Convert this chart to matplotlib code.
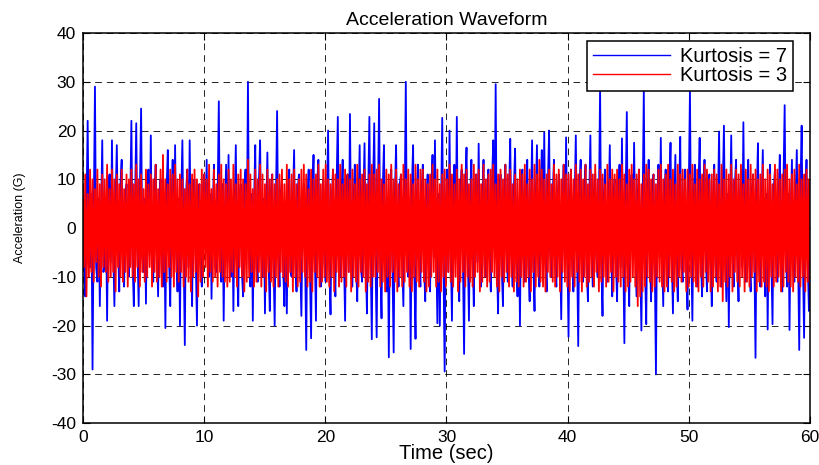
import numpy as np
import matplotlib
matplotlib.use("Agg")
import matplotlib.pyplot as plt

plt.rcParams['font.family'] = ['Liberation Sans', 'DejaVu Sans']
plt.rcParams['axes.unicode_minus'] = False

# valores, amostras a cada ~0.1 s (uma linha = 4 s)
kurt7 = [
    5, -6, -14, 4, 22, -5, -8, 7, -29, 3, 29, -8, -11, 6, -16, 2, 18, -9, -7, 5, -19, 8, 11, -7, 18, -4, -16, 6, 17, -3, -13, 9, 14, -8, -12, 5, 9, -6, -10, 4,
    22, -7, -16, 5, 21.5, -4, -16, 8, 24.5, -6, -9, 6, -15.5, 9, 12, -5, 19, -8, -11, 7, 13, -3, -14, 6, 10, -9, -12, 4, -20.5, 8, 16, -6, -16, 5, 14, -7, 17, -5, -13, 6,
    -20, 6, 18, -5, -24, 7, 12, -8, 18, -4, -16, 9, 10, -6, -20, 5, 9, -7, -12, 8, 11, -3, 14, -6, -10, 7, -14.5, 4, 13, -8, -9, 6, 26, -5, -11, 9, -19, 3, 13, -7,
    15, -8, -10, 6, -17, 4, 17, -7, -16, 5, 9, -9, -14, 8, 12, -4, 30, -6, -12, 7, -19, 5, 17, -8, -11, 9, 18, -5, -10, 6, -17.5, 3, 15.5, -7, -17, 8, 11, -6, -20, 5,
    24, -5, -12, 7, 10, -8, -16, 4, -17.5, 6, 12, -9, -10, 5, 16, -6, -13, 8, 11, -7, -18, 3, 9, -5, -25, 6, 12, -8, -22.6, 7, 15, -4, -19, 9, 14, -6, -12, 5, 10, -7,
    -11, 6, 20, -8, -17.7, 5, 12, -6, -14, 9, 22.8, -4, -10, 7, 14, -5, -19, 8, 11, -9, 23.4, -3, -12, 6, 13, -7, -15, 4, 17, -8, -11, 5, 17.4, -6, -17.5, 7, 22.8, -5, -22.8, 8,
    21.5, -6, -22.4, 5, 26.5, -7, -18.5, 8, 17, -4, -13, 6, -26.5, 3, 12, -8, -25.5, 7, 17, -5, -12, 9, 11, -6, -16, 4, 30, -7, -10, 5, -24.8, 8, 17, -9, -22.7, 6, 13, -5, -12, 7,
    13, -7, -15, 6, 11, -5, -13, 8, 15, -6, 18, -3, -19.5, 7, -20, 4, 22.6, -8, -29.4, 5, 12, -9, 20, -4, -19, 6, 13, -5, 22.8, -7, -15, 8, 12, -6, -25.8, 9, 16.5, -4, -19, 6,
    14, -5, -16, 8, 11, -7, 17.3, -4, -12, 6, 14, -8, -10, 5, 12, -6, -13, 9, 18, -3, 29.5, -7, -17.5, 5, 11, -8, -16, 6, 13, -4, -11, 7, 18.3, -5, -12, 8, 16.3, -6, -14, 5,
    -20, 7, 12, -6, -11, 5, 14, -8, -15, 4, 18, -7, -17, 6, 17, -5, -12, 8, 16, -4, 19.6, -6, -13, 9, 20, -5, -10, 7, 14, -8, -12, 6, 11, -4, -18.7, 5, 13, -7, 18.6, -3,
    -22.3, 6, 12, -7, -13, 5, 19, -4, -24.2, 8, 14, -6, -11, 7, 13, -9, -15, 5, 19, -5, -12, 8, 11, -6, -10, 4, 29, -7, -18, 6, 12, -8, -11, 5, 17, -4, -14, 7, 10, -6,
    -15, 5, 13, -8, 18.4, -4, -23.6, 6, 23.8, -7, -16, 9, 11, -5, 17.5, -3, -14, 7, 12, -6, -21, 4, 28.3, -8, -19.7, 6, 14, -5, -15, 8, 11, -7, -30, 5, 13, -6, 18.5, -4, -16, 7,
    12, -6, -13, 8, 17.5, -5, -17.5, 4, 15, -7, -15, 6, 18.7, -8, -11, 5, 12, -9, -16.7, 7, 28.3, -4, -19, 6, 13, -5, -12, 8, 18.5, -6, -14, 7, 14, -4, -13, 9, 11, -7, -16, 5,
    13, -7, -11, 5, 19.8, -6, -12, 8, 21, -4, -15, 7, -20.3, 3, 19, -5, -12, 9, 14, -6, -15, 5, 12, -8, 21.7, -4, -11, 6, 14, -7, -13, 8, 11, -5, -26.6, 6, 17.4, -8, -12, 4,
    16, -5, -14, 7, -20.8, 4, 13, -6, -19.7, 8, 12, -7, -11, 6, 15, -4, -13, 9, 25.2, -5, -12, 7, -20.9, 3, 14, -8, -11, 6, 16, -5, -25, 8, 21, -6, -22.5, 5, 14, -7, -17, 6,
]

kurt3 = [
    9, -8, 11, -14, 7, -10, 12, -9, 10, -11, 8, -7, 12, -10, 9, -12, 11, -8, 10, -9, 13, -11, 8, -10, 12, -9, 10, -13, 11, -8, 9, -10, 12, -11, 8, -9, 11, -12, 10, -8,
    12, -10, 9, -11, 13, -8, 10, -12, 11, -9, 8, -11, 12, -10, 9, -8, 11, -12, 10, -9, 13, -11, 8, -10, 12, -12, 15, -9, 10, -11, 9, -8, 12, -10, 11, -12, 13, -9, 10, -11,
    11, -9, 10, -12, 8, -10, 12, -11, 9, -13, 11, -10, 12, -9, 10, -14, 9, -11, 12, -10, 11, -8, 10, -12, 13, -9, 8, -11, 12, -10, 9, -12, 11, -9, 13, -10, 10, -11, 9, -12,
    12, -11, 10, -9, 13, -10, 9, -12, 11, -8, 12, -10, 10, -13, 9, -11, 14, -10, 11, -9, 8, -12, 12, -11, 10, -9, 13, -12, 11, -10, 9, -13, 12, -9, 10, -11, 11, -12, 9, -10,
    10, -12, 11, -9, 12, -10, 9, -11, 13, -12, 10, -9, 11, -13, 12, -10, 9, -12, 10, -11, 12, -9, 13, -10, 11, -12, 8, -11, 12, -13, 10, -9, 11, -10, 13, -12, 9, -11, 12, -10,
    13, -11, 10, -12, 9, -10, 12, -13, 11, -9, 10, -12, 13, -11, 9, -10, 12, -12, 11, -9, 10, -13, 12, -10, 9, -11, 13, -12, 10, -9, 11, -10, 12, -13, 9, -11, 11, -12, 13, -10,
    11, -10, 12, -9, 13, -12, 10, -11, 9, -13, 12, -10, 11, -12, 13, -9, 10, -11, 12, -13, 9, -10, 11, -12, 13, -11, 10, -9, 12, -12, 11, -13, 9, -10, 13, -11, 10, -12, 12, -9,
    12, -11, 10, -13, 9, -12, 11, -10, 13, -9, 10, -12, 12, -11, 9, -13, 11, -10, 12, -12, 10, -9, 13, -11, 11, -12, 9, -10, 12, -13, 10, -11, 13, -9, 11, -12, 12, -10, 9, -11,
    10, -12, 13, -10, 11, -9, 12, -13, 9, -11, 13, -10, 10, -12, 11, -11, 12, -9, 13, -10, 9, -12, 11, -13, 12, -10, 10, -11, 13, -9, 11, -12, 12, -10, 9, -13, 11, -11, 10, -12,
    12, -10, 11, -12, 13, -11, 9, -10, 12, -13, 10, -9, 13, -12, 11, -10, 14, -11, 12, -12, 10, -13, 11, -9, 12, -10, 9, -11, 13, -12, 11, -10, 12, -13, 10, -9, 13, -11, 11, -12,
    11, -13, 12, -10, 10, -12, 13, -9, 11, -11, 12, -13, 10, -10, 13, -12, 9, -11, 12, -10, 11, -12, 13, -9, 10, -13, 12, -11, 11, -10, 9, -12, 13, -11, 10, -9, 12, -13, 11, -10,
    12, -11, 10, -12, 13, -10, 11, -13, 9, -12, 12, -11, 13, -10, 10, -12, 11, -16, 12, -14, 9, -13, 11, -12, 13, -10, 12, -11, 10, -13, 11, -12, 9, -10, 12, -11, 13, -12, 10, -13,
    11, -12, 13, -10, 10, -11, 12, -13, 9, -12, 13, -10, 11, -11, 12, -9, 10, -13, 12, -12, 11, -10, 13, -11, 9, -12, 12, -13, 10, -10, 11, -12, 13, -9, 12, -11, 10, -13, 11, -12,
    12, -10, 11, -13, 9, -12, 13, -15, 10, -11, 12, -12, 11, -10, 13, -13, 10, -9, 12, -11, 11, -12, 13, -10, 9, -13, 12, -11, 10, -12, 13, -10, 11, -9, 12, -13, 10, -11, 11, -12,
    13, -11, 10, -12, 12, -13, 11, -10, 9, -12, 13, -11, 12, -10, 10, -13, 11, -12, 12, -9, 13, -11, 10, -12, 11, -13, 12, -10, 9, -11, 13, -12, 10, -10, 11, -13, 12, -11, 10, -12,
]

tempo = np.linspace(0, 60, len(kurt7))

fig = plt.figure(figsize=(8.2, 4.65), dpi=100)
ax = fig.add_axes([0.101, 0.090, 0.887, 0.839])

ax.plot(tempo, kurt7, color=(0, 0, 1), lw=1.3, label="Kurtosis = 7")
ax.plot(tempo, kurt3, color=(1, 0, 0), lw=1.3, label="Kurtosis = 3")

ax.set_xlim(0, 60)
ax.set_ylim(-40, 40)
ax.set_xticks(range(0, 61, 10))
ax.set_yticks(range(-40, 41, 10))
ax.tick_params(direction="in", labelsize=12.5, length=5, width=0.8, pad=5,
               top=True, right=True)
ax.grid(True, color="black", linestyle=(0, (8, 6)), linewidth=0.6)
for s in ax.spines.values():
    s.set_linewidth(1.1)

ax.set_title("Acceleration Waveform", fontsize=14, pad=6)
ax.set_xlabel("Time (sec)", fontsize=14.5, labelpad=-1)
ax.set_ylabel("Acceleration (G)", fontsize=9)
ax.yaxis.set_label_coords(-0.078, 0.527)

leg = ax.legend(loc="upper right", bbox_to_anchor=(793 / 820, 424 / 465),
                bbox_transform=fig.transFigure, borderaxespad=0,
                fontsize=14.5, fancybox=False, framealpha=1, edgecolor="black",
                handlelength=3.8, handletextpad=0.5, borderpad=0.3,
                labelspacing=0.0)
leg.get_frame().set_linewidth(1.1)
for linha in leg.get_lines():
    linha.set_linewidth(1.0)

fig.savefig("out.png", dpi=100)
